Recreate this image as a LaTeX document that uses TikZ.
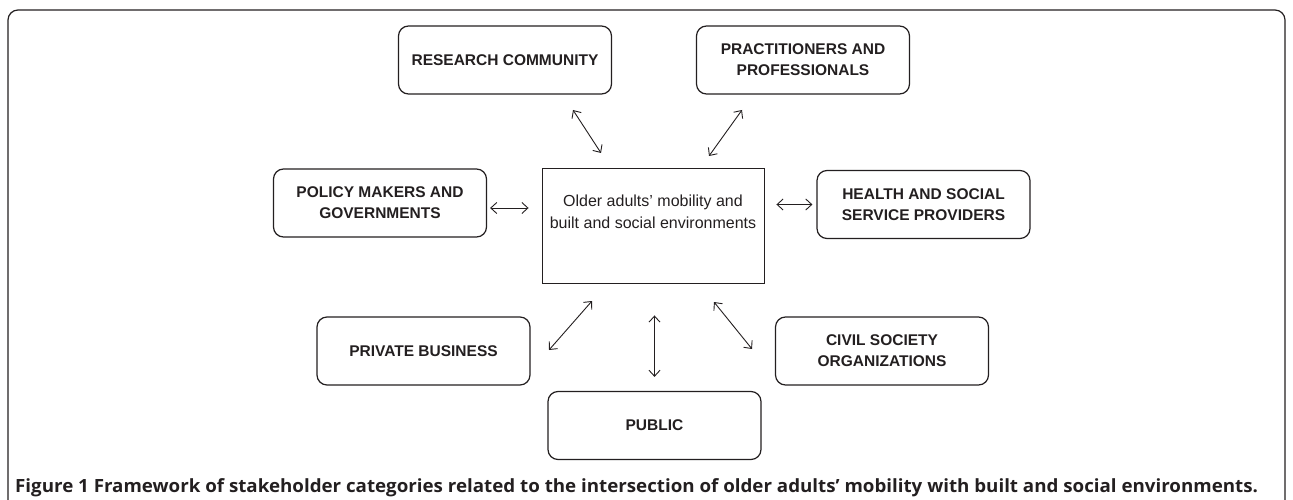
\documentclass[tikz,border=0pt]{standalone}
\usepackage{fontspec}
\setmainfont{Liberation Sans}
\newfontfamily\capfont[FakeStretch = 1.03]{Open Sans}
\usetikzlibrary{arrows.meta}
\definecolor{ink}{HTML}{231F20}
\tikzset{party/.style = {draw = ink, text = ink, line width = 1.2pt,
                         rounded corners = 10pt, minimum width = 213pt,
                         minimum height = 68pt, align = center,
                         font = \fontsize{15.5}{21}\selectfont\bfseries}}
\tikzset{core/.style = {draw = ink, text = ink, line width = 0.9pt,
                        minimum width = 222pt, minimum height = 115pt,
                        align = center, font = \fontsize{16}{22}\selectfont}}
\tikzset{link/.style = {<->, >={Straight Barb[length=6pt, width=11pt]},
                        draw = ink, line width = 0.9pt}}

\begin{document}
\begin{tikzpicture}[x = 1pt, y = -1pt]
        \useasboundingbox (0, 0) rectangle (1293, 500);
        \draw [ink, line width = 1.2pt, rounded corners = 10pt] (8, 520) -- (8, 10) -- (1285, 10) -- (1285, 520);
        % stakeholders round the middle box
        \node (core) at (653, 225.5) [core] {Older adults’ mobility and\\built and social environments\\[6pt]};
        \node (research) at (505, 60) [party] {RESEARCH COMMUNITY};
        \node (practice) at (803, 60) [party] {PRACTITIONERS AND\\PROFESSIONALS};
        \node (policy) at (380, 203) [party] {POLICY MAKERS AND\\GOVERNMENTS};
        \node (health) at (923.5, 204.5) [party] {HEALTH AND SOCIAL\\SERVICE PROVIDERS};
        \node (business) at (423.5, 351) [party] {PRIVATE BUSINESS};
        \node (civil) at (882, 351) [party] {CIVIL SOCIETY\\ORGANIZATIONS};
        \node (public) at (654.5, 425.5) [party] {PUBLIC};
        % arrow ends
        \coordinate (research-a) at (573, 110);
        \coordinate (research-b) at (601, 153);
        \coordinate (practice-a) at (742, 110);
        \coordinate (practice-b) at (709, 156);
        \coordinate (business-a) at (549, 350);
        \coordinate (business-b) at (592, 301);
        \coordinate (civil-a) at (752, 349);
        \coordinate (civil-b) at (714, 302);
        \coordinate (policy-a) at ([yshift = -5pt] policy.east);
        \draw [link] (research-a) -- (research-b);
        \draw [link] (practice-a) -- (practice-b);
        \draw [link, shorten < = 3pt, shorten > = 13pt] (policy-a) -- (policy-a -| core.west);
        \draw [link, shorten < = 12pt, shorten > = 4pt] (core.east |- health.center) -- (health.west);
        \draw [link] (business-a) -- (business-b);
        \draw [link] (civil-a) -- (civil-b);
        \draw [link, shorten < = 32pt, shorten > = 14pt] (core.south -| public.center) -- (public.north);
        \node (caption) at (15, 492) [anchor = base west, inner sep = 0, text = ink, font = \capfont\fontsize{18.2}{20}\selectfont\bfseries]
              {Figure 1 Framework of stakeholder categories related to the intersection of older adults’ mobility with built and social environments.};
      \end{tikzpicture}
\end{document}
